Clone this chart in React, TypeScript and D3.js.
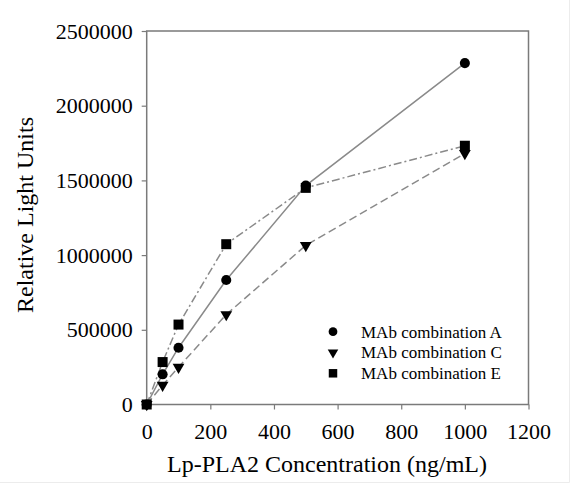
import React, { useEffect, useRef } from 'react';
import * as d3 from 'd3';

const concentrations = [0, 50, 100, 250, 500, 1000];
const seriesA = [0, 202000, 380000, 833000, 1465000, 2285000];
const seriesC = [0, 129000, 250000, 602000, 1065000, 1680000];
const seriesE = [0, 284000, 535000, 1073000, 1450000, 1732000];
const seriesNames = ['MAb combination A', 'MAb combination C', 'MAb combination E'];
const xTicks = [0, 200, 400, 600, 800, 1000, 1200];
const yTicks = [0, 500000, 1000000, 1500000, 2000000, 2500000];

const width = 573;
const height = 485;
const margin = { top: 31, right: 44.5, bottom: 80.5, left: 146.7 };
const font = "'Liberation Serif', serif";
const lineColor = '#8a8a8a';
const frameColor = '#7a7a7a';

const App = () => {
  const ref = useRef<SVGSVGElement>(null);

  useEffect(() => {
    if (!ref.current) {
      return;
    }
    const svg = d3.select(ref.current);
    svg.selectAll('*').remove();

    const x = d3
      .scaleLinear()
      .domain([0, 1200])
      .range([margin.left, width - margin.right]);
    const y = d3
      .scaleLinear()
      .domain([0, 2500000])
      .range([height - margin.bottom, margin.top]);

    svg.append('rect').attr('width', width).attr('height', height).attr('fill', '#fff');
    // faint picture border on the right and bottom
    svg
      .append('path')
      .attr('d', `M${width - 3.5},0V${height - 2.5}H0`)
      .attr('fill', 'none')
      .attr('stroke', '#ececec')
      .attr('stroke-width', 1);

    // frame
    svg
      .append('rect')
      .attr('x', x(0))
      .attr('y', y(2500000))
      .attr('width', x(1200) - x(0))
      .attr('height', y(0) - y(2500000))
      .attr('fill', 'none')
      .attr('stroke', frameColor)
      .attr('stroke-width', 1.5);

    const xAxis = svg
      .append('g')
      .attr('transform', `translate(0,${y(0)})`)
      .call(d3.axisBottom(x).tickValues(xTicks).tickSize(5).tickPadding(14).tickFormat(d3.format('d')));
    xAxis.select('.domain').remove();
    xAxis.selectAll('line').attr('stroke', frameColor).attr('stroke-width', 1.2);
    xAxis
      .selectAll('text')
      .style('font-family', font)
      .style('font-size', '22px')
      .attr('fill', '#000');

    const yAxis = svg
      .append('g')
      .attr('transform', `translate(${x(0)},0)`)
      .call(d3.axisLeft(y).tickValues(yTicks).tickSize(5).tickPadding(9).tickFormat(d3.format('d')));
    yAxis.select('.domain').remove();
    yAxis.selectAll('line').attr('stroke', frameColor).attr('stroke-width', 1.2);
    yAxis
      .selectAll('text')
      .style('font-family', font)
      .style('font-size', '22px')
      .attr('fill', '#000');

    svg
      .append('text')
      .attr('x', 327)
      .attr('y', 472)
      .attr('text-anchor', 'middle')
      .style('font-family', font)
      .style('font-size', '24px')
      .text('Lp-PLA2 Concentration (ng/mL)');

    svg
      .append('text')
      .attr('transform', `translate(33,215) rotate(-90)`)
      .attr('text-anchor', 'middle')
      .style('font-family', font)
      .style('font-size', '24px')
      .text('Relative Light Units');

    const series = [
      { values: seriesA, dash: '', symbol: d3.symbolCircle, size: 80, legendSize: 60, rot: 0 },
      { values: seriesC, dash: '8,4', symbol: d3.symbolTriangle, size: 60, legendSize: 48, rot: 180 },
      { values: seriesE, dash: '8,3,2,3', symbol: d3.symbolSquare, size: 100, legendSize: 72, rot: 0 },
    ];

    const line = d3
      .line<number>()
      .x((_, i) => x(concentrations[i]))
      .y((d) => y(d));

    series.forEach((s) => {
      svg
        .append('path')
        .attr('d', line(s.values))
        .attr('fill', 'none')
        .attr('stroke', lineColor)
        .attr('stroke-width', 1.5)
        .attr('stroke-dasharray', s.dash || null);
    });

    // squares first so circles sit on top, as in the original
    [series[2], series[1], series[0]].forEach((s) => {
      const sym = d3.symbol().type(s.symbol).size(s.size);
      svg
        .append('g')
        .selectAll('path')
        .data(s.values)
        .join('path')
        .attr('d', sym)
        .attr('transform', (d, i) => `translate(${x(concentrations[i])},${y(d)}) rotate(${s.rot})`)
        .attr('fill', '#000');
    });

    // legend
    const legend = svg.append('g');
    seriesNames.forEach((name, i) => {
      const s = series[i];
      const ly = 331.7 + i * 20.8;
      legend
        .append('path')
        .attr('d', d3.symbol().type(s.symbol).size(s.legendSize)())
        .attr('transform', `translate(333,${ly}) rotate(${s.rot})`)
        .attr('fill', '#000');
      legend
        .append('text')
        .attr('x', 361)
        .attr('y', ly)
        .attr('dy', '0.35em')
        .style('font-family', font)
        .style('font-size', '17px')
        .text(name);
    });
  }, []);

  return (
    <svg
      ref={ref}
      width={width}
      height={height}
      style={{ position: 'absolute', left: 0, top: 0 }}
    />
  );
};

export default App;
